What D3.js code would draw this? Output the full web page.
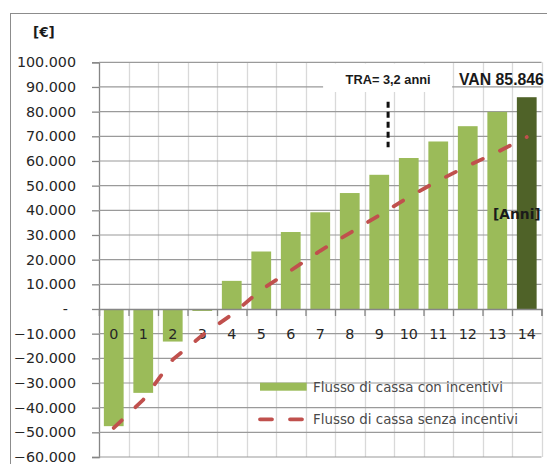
<!DOCTYPE html>
<html>
<head>
<meta charset="utf-8">
<script src="https://cdn.jsdelivr.net/npm/d3@7"></script>
<style>
  html, body { margin: 0; padding: 0; background: #fff; }
  svg { display: block; }
</style>
</head>
<body>
<svg id="chart" width="547" height="464"></svg>
<script>
// Cash flow over the plant lifetime (cumulative, €)
const years = ["0","1","2","3","4","5","6","7","8","9","10","11","12","13","14"];
const flowWithIncentives = [-47500, -34000, -13200, -800, 11400, 23300, 31200, 39200, 47000, 54400, 61200, 67900, 74100, 79900, 85846];
const flowWithoutIncentives = [-48200, -36800, -20500, -10700, -2300, 7800, 15600, 23600, 30800, 38000, 45400, 52000, 58000, 63600, 69700];
const yTicks = [-60000, -50000, -40000, -30000, -20000, -10000, 0, 10000, 20000, 30000, 40000, 50000, 60000, 70000, 80000, 90000, 100000];
const seriesNames = ["Flusso di cassa con incentivi", "Flusso di cassa senza incentivi"];
const paybackLabel = "TRA= 3,2 anni";
const npvLabel = "VAN 85.846";

const svg = d3.select("#chart");
const plot = { left: 99, right: 541.5, top: 62.3, bottom: 457 };

const x = d3.scaleBand().domain(years).range([plot.left, plot.right])
  .paddingInner(0.33).paddingOuter(0.165);
const xPos = d3.scaleLinear().domain([0, years.length]).range([plot.left, plot.right]);
const y = d3.scaleLinear().domain([-60000, 100000]).range([plot.bottom, plot.top]);

const it = d3.formatLocale({ decimal: ",", thousands: ".", grouping: [3], currency: ["€", ""] });
const fmt = it.format(",.0f");
const tickText = v => v === 0 ? "-" : fmt(v);

const axisColor = "#868686";
const gridColor = "#d9d9d9";
const green = "#9bbb59";
const darkGreen = "#4f6228";
const red = "#c0504d";

// outer chart frame
svg.append("rect")
  .attr("x", 10.5).attr("y", 13.5).attr("width", 545).attr("height", 470)
  .attr("fill", "none").attr("stroke", "#8c8c8c").attr("stroke-width", 1);

// vertical gridlines at category boundaries
svg.append("g").selectAll("line")
  .data(d3.range(1, years.length + 1))
  .join("line")
  .attr("x1", d => Math.round(xPos(d)) + 0.5).attr("x2", d => Math.round(xPos(d)) + 0.5)
  .attr("y1", plot.top).attr("y2", plot.bottom)
  .attr("stroke", gridColor).attr("stroke-width", 1.3);

// horizontal gridlines + y axis
const yAxis = d3.axisLeft(y).tickValues(yTicks).tickFormat(tickText)
  .tickSize(7).tickPadding(16);
const yg = svg.append("g").attr("transform", `translate(${plot.left},0)`).call(yAxis);
yg.select(".domain").attr("stroke", axisColor).attr("stroke-width", 1.3);
yg.selectAll(".tick line").attr("stroke", axisColor).attr("stroke-width", 1.3);
yg.selectAll(".tick text")
  .attr("fill", "#262626")
  .style("font-family", "'DejaVu Sans', sans-serif")
  .style("font-size", "14.3px")
  .attr("dx", d => d === 0 ? -8 : 0);
svg.append("g").selectAll("line")
  .data(yTicks.filter(v => v !== 0))
  .join("line")
  .attr("x1", plot.left).attr("x2", plot.right)
  .attr("y1", d => y(d)).attr("y2", d => y(d))
  .attr("stroke", "#9a9a9a").attr("stroke-width", 1.2);

// bars
svg.append("g").selectAll("rect")
  .data(years.map((yr, i) => ({ yr, v: flowWithIncentives[i], last: i === years.length - 1 })))
  .join("rect")
  .attr("x", d => x(d.yr))
  .attr("width", x.bandwidth())
  .attr("y", d => y(Math.max(0, d.v)))
  .attr("height", d => Math.abs(y(d.v) - y(0)))
  .attr("fill", d => d.last ? darkGreen : green);

// x axis on the zero line
const xAxis = d3.axisBottom(xPos).tickValues(d3.range(0, years.length + 1)).tickSize(7).tickFormat("");
const xg = svg.append("g").attr("transform", `translate(0,${y(0)})`).call(xAxis);
xg.select(".domain").attr("stroke", axisColor).attr("stroke-width", 1.3);
xg.selectAll(".tick line").attr("stroke", axisColor).attr("stroke-width", 1.3);

// category labels
svg.append("g").selectAll("text")
  .data(years)
  .join("text")
  .attr("x", d => x(d) + x.bandwidth() / 2)
  .attr("y", y(0) + 30)
  .attr("text-anchor", "middle")
  .attr("fill", "#262626")
  .style("font-family", "'DejaVu Sans', sans-serif")
  .style("font-size", "14.3px")
  .text(d => d);

// cash flow without incentives
const line = d3.line()
  .x((d, i) => x(years[i]) + x.bandwidth() / 2)
  .y(d => y(d));
svg.append("path")
  .datum(flowWithoutIncentives)
  .attr("d", line)
  .attr("fill", "none")
  .attr("stroke", red)
  .attr("stroke-width", 3.8)
  .attr("stroke-linecap", "round")
  .attr("stroke-dasharray", "11,19");

// legend
const lg = svg.append("g").style("font-family", "'DejaVu Sans', sans-serif").style("font-size", "13.4px");
lg.append("rect").attr("x", 260).attr("y", 382.7).attr("width", 46.7).attr("height", 8).attr("fill", green);
lg.append("text").attr("x", 313).attr("y", 392).attr("fill", "#4a4a4a").text(seriesNames[0]);
lg.append("line").attr("x1", 260).attr("x2", 304).attr("y1", 419.3).attr("y2", 419.3)
  .attr("stroke", red).attr("stroke-width", 3.8).attr("stroke-linecap", "round")
  .attr("stroke-dasharray", "12,18");
lg.append("text").attr("x", 313).attr("y", 423.5).attr("fill", "#4a4a4a").text(seriesNames[1]);

// payback time annotation
const traX = xPos(9.8);
svg.append("rect").attr("x", traX - 65).attr("y", 63.5).attr("width", 129).attr("height", 28.5).attr("fill", "#fff");
svg.append("text")
  .attr("x", traX).attr("y", 84.3)
  .attr("text-anchor", "middle")
  .attr("fill", "#1a1a1a")
  .style("font-family", "'Liberation Sans Narrow', 'Liberation Sans', sans-serif")
  .style("font-weight", "bold")
  .style("font-size", "12.5px")
  .attr("textLength", 85).attr("lengthAdjust", "spacingAndGlyphs")
  .text(paybackLabel);
svg.append("line")
  .attr("x1", traX).attr("x2", traX)
  .attr("y1", 101.7).attr("y2", 147.3)
  .attr("stroke", "#111").attr("stroke-width", 3)
  .attr("stroke-dasharray", "6,4");

// net present value
svg.append("text")
  .attr("x", 459).attr("y", 85)
  .attr("fill", "#1a1a1a")
  .style("font-family", "'Liberation Sans', sans-serif")
  .style("font-weight", "bold")
  .style("font-size", "15.8px")
  .text(npvLabel);

// axis titles
svg.append("text")
  .attr("x", 33).attr("y", 36.5)
  .attr("fill", "#1a1a1a")
  .style("font-family", "'DejaVu Sans', sans-serif")
  .style("font-weight", "bold")
  .style("font-size", "13.5px")
  .text("[€]");
svg.append("text")
  .attr("x", 493).attr("y", 218.5)
  .attr("fill", "#1a1a1a")
  .style("font-family", "'DejaVu Sans', sans-serif")
  .style("font-weight", "bold")
  .style("font-size", "13.8px")
  .text("[Anni]");
</script>
</body>
</html>
